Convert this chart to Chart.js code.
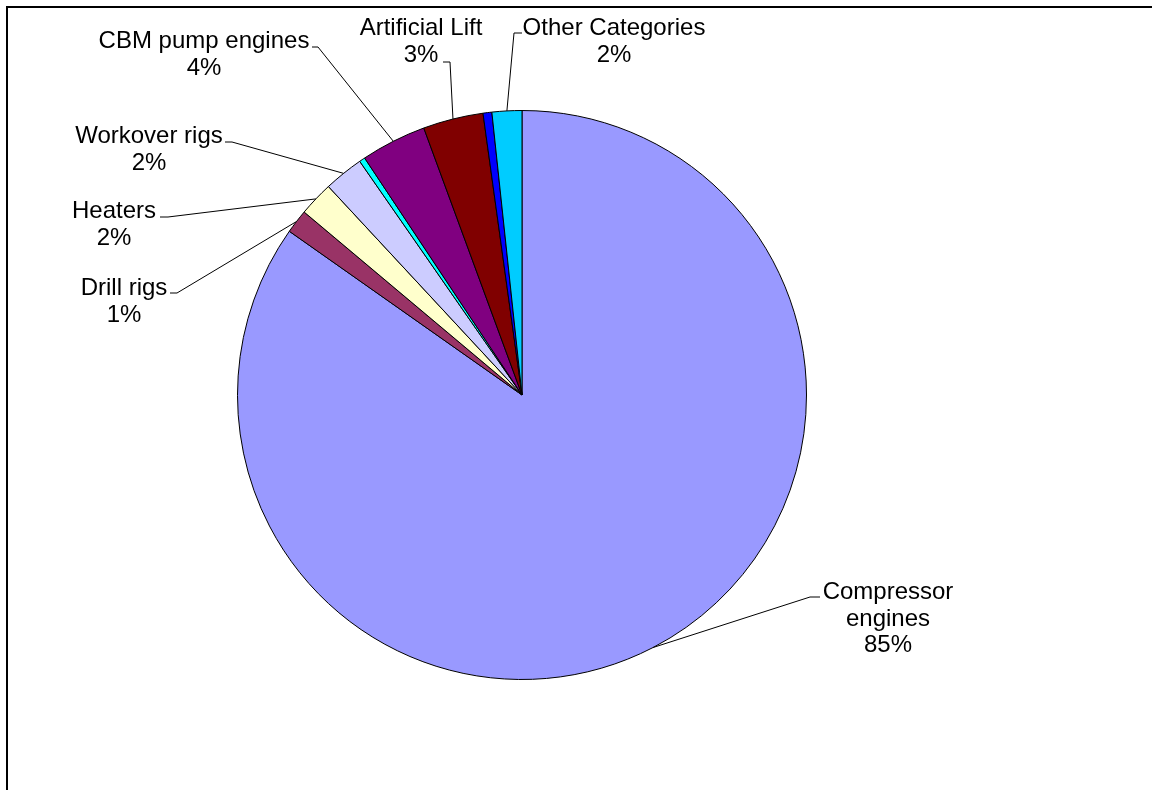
<!DOCTYPE html>
<html lang="en">
<head>
    <meta charset="UTF-8">
    <title>Emissions by source category</title>
    <style>
        body {
            margin: 0;
            background: #fff;
        }
        #wrap {
            width: 1152px;
            height: 790px;
        }
    </style>
    <script src="https://cdn.jsdelivr.net/npm/chart.js"></script>
</head>
<body>
    <div id="wrap"><canvas id="pieChart" width="1152" height="790"></canvas></div>

    <script>
        // slice order, clockwise from 12 o'clock
        const categories = ["Compressor engines", "Drill rigs", "Heaters", "Workover rigs", "",
                            "CBM pump engines", "Artificial Lift", "", "Other Categories"];
        const shares = [84.75, 1.36, 1.97, 2.25, 0.33, 3.72, 3.42, 0.5, 1.69];
        const sliceColors = ["#9999FF", "#993366", "#FFFFCC", "#CCCCFF", "#00FFFF",
                             "#800080", "#800000", "#0000FF", "#00CCFF"];

        // where each data label sits (text centre x, first baseline y) and its leader elbow
        const labelLayout = {
            0: { x: 888, y: 599, elbow: [810, 597], stub: 820 },
            1: { x: 124, y: 295, elbow: [177, 293], stub: 170 },
            2: { x: 114, y: 218, elbow: [168, 217], stub: 160 },
            3: { x: 149, y: 143, elbow: [232, 142], stub: 225 },
            5: { x: 204, y: 48,  elbow: [318, 47],  stub: 312 },
            6: { x: 421, y: 35,  elbow: [450, 62],  stub: 443 },
            8: { x: 614, y: 35,  elbow: [514, 33],  stub: 522 }
        };

        const total = shares.reduce((a, b) => a + b, 0);

        const labelPlugin = {
            id: "excelLabels",
            afterDraw(chart) {
                const ctx = chart.ctx;
                const arcs = chart.getDatasetMeta(0).data;
                ctx.save();
                ctx.strokeStyle = "#000";
                ctx.lineWidth = 1;
                ctx.fillStyle = "#000";
                ctx.font = "24px 'Liberation Sans', Arial, sans-serif";
                ctx.textAlign = "center";
                ctx.textBaseline = "alphabetic";

                Object.keys(labelLayout).forEach(k => {
                    const i = Number(k);
                    const lay = labelLayout[i];
                    const arc = arcs[i];
                    const p = arc.getProps(["x", "y", "startAngle", "endAngle", "outerRadius"], true);
                    const mid = (p.startAngle + p.endAngle) / 2;
                    const ex = p.x + Math.cos(mid) * p.outerRadius;
                    const ey = p.y + Math.sin(mid) * p.outerRadius;

                    ctx.beginPath();
                    ctx.moveTo(lay.stub, lay.elbow[1]);
                    ctx.lineTo(lay.elbow[0], lay.elbow[1]);
                    ctx.lineTo(ex, ey);
                    ctx.stroke();

                    const pct = Math.round(shares[i] / total * 100) + "%";
                    let lines = [categories[i], pct];
                    if (categories[i] === "Compressor engines") lines = ["Compressor", "engines", pct];
                    lines.forEach((t, j) => ctx.fillText(t, lay.x, lay.y + j * 26.5));
                });

                // chart area frame (top and left edges visible)
                ctx.lineWidth = 2;
                ctx.beginPath();
                ctx.moveTo(7, 800);
                ctx.lineTo(7, 7);
                ctx.lineTo(1160, 7);
                ctx.stroke();
                ctx.restore();
            }
        };

        new Chart(document.getElementById("pieChart"), {
            type: "pie",
            data: {
                labels: categories,
                datasets: [{
                    data: shares,
                    backgroundColor: sliceColors,
                    borderColor: "#000",
                    borderWidth: 1
                }]
            },
            options: {
                responsive: false,
                animation: false,
                layout: { padding: { top: 110, bottom: 110, left: 237, right: 345 } },
                plugins: {
                    legend: { display: false },
                    tooltip: { enabled: false }
                }
            },
            plugins: [labelPlugin]
        });
    </script>
</body>
</html>
